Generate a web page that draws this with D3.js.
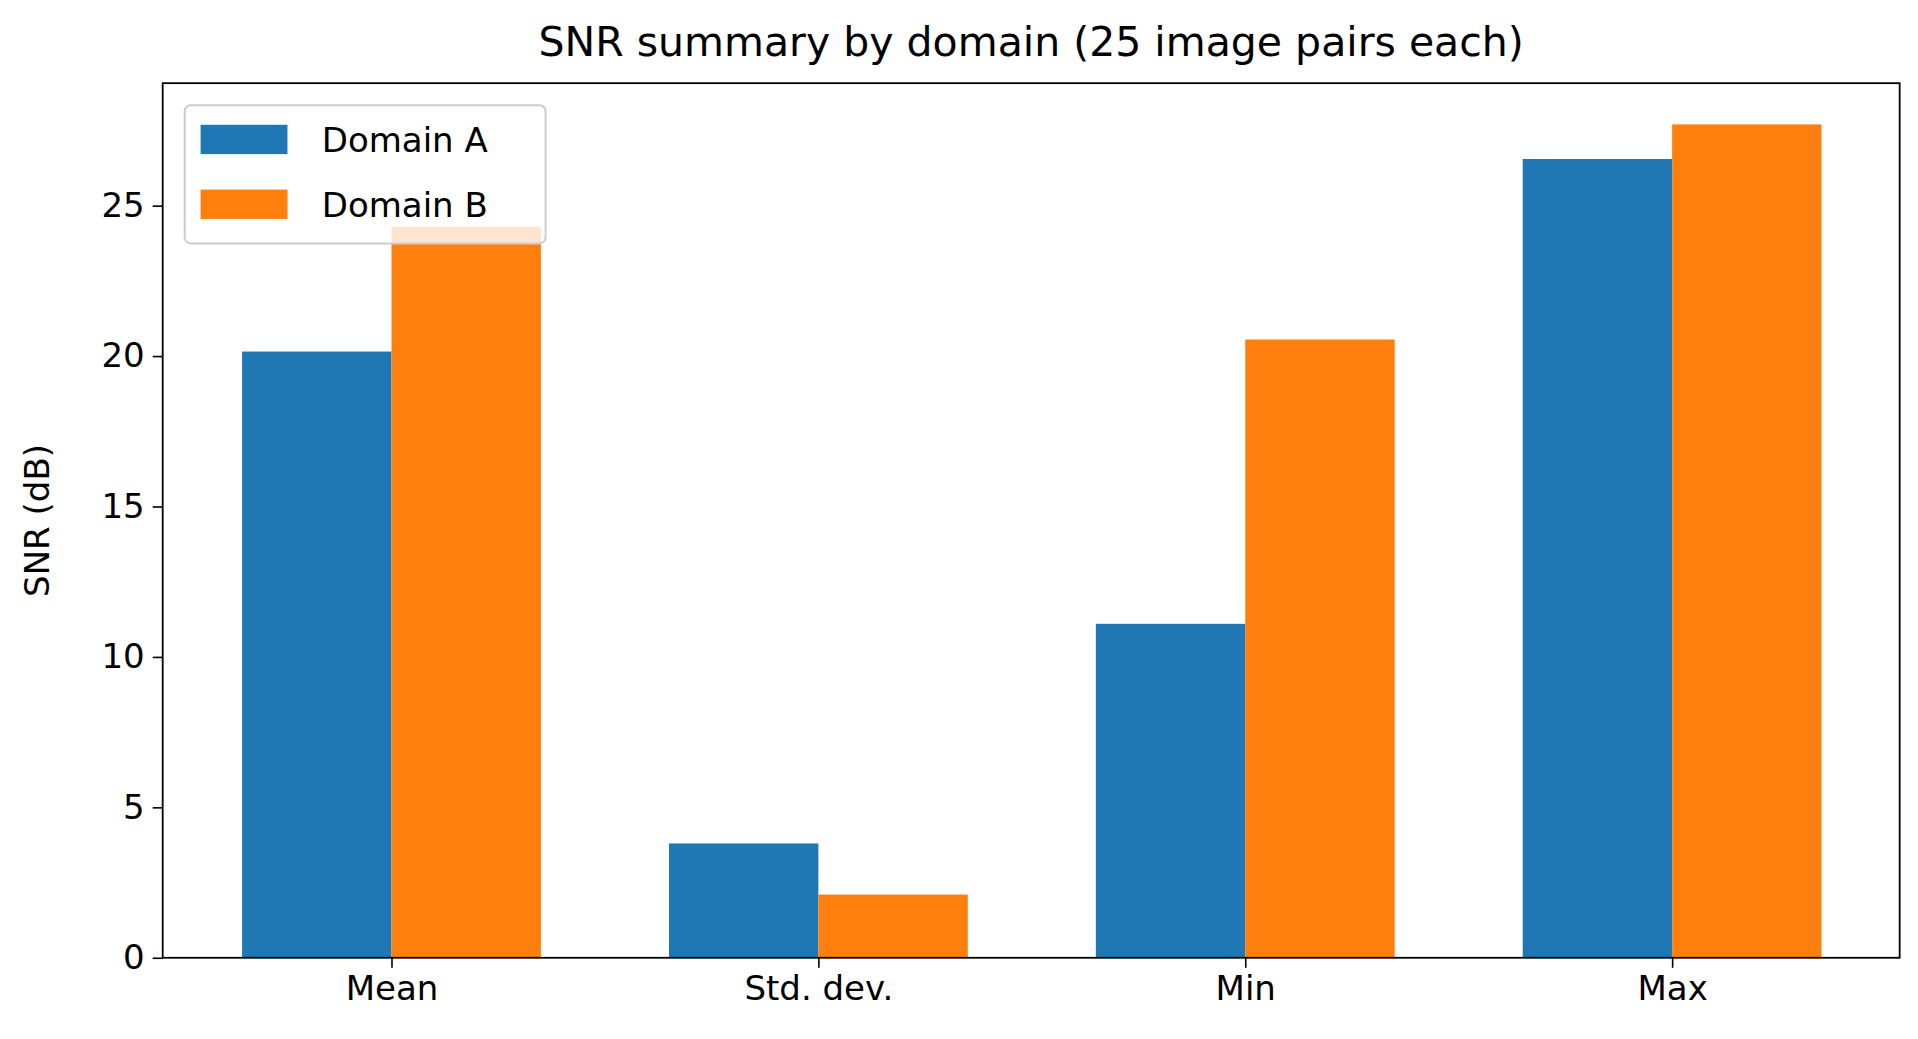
<!DOCTYPE html><html><head><meta charset="utf-8"><script src="https://d3js.org/d3.v7.min.js"></script>
<style>body{margin:0;background:#fff}svg{font-family:"DejaVu Sans",sans-serif}</style></head><body><svg id="c" width="1918" height="1039"></svg><script>
const categories=["Mean","Std. dev.","Min","Max"];
const seriesNames=["Domain A","Domain B"];
const domainA=[20.15,3.8,11.1,26.55];
const domainB=[24.3,2.1,20.55,27.7];
const colors=["#1f77b4","#ff7f0e"];
const yTicks=[0,5,10,15,20,25];
const k=1918/1568;
const L=133*k,R=1553*k,T=68*k,B=783*k;
const svg=d3.select("#c");
const x=d3.scaleLinear().domain([-0.536,3.533]).range([L,R]);
const y=d3.scaleLinear().domain([0,29.07]).range([B,T]);
const w=0.35;
[domainA,domainB].forEach((s,si)=>{
 svg.selectAll(null).data(s).enter().append("rect")
  .attr("x",(d,i)=>x(i+(si-1)*w)).attr("width",x(w)-x(0))
  .attr("y",d=>y(d)).attr("height",d=>B-y(d)).attr("fill",colors[si]);
});
const fs=34;
const ya=svg.append("g").attr("transform",`translate(${L},0)`).call(d3.axisLeft(y).tickValues(yTicks).tickSize(10).tickPadding(8));
const xa=svg.append("g").attr("transform",`translate(0,${B})`).call(d3.axisBottom(x).tickValues([0,1,2,3]).tickFormat(i=>categories[i]).tickSize(10).tickPadding(8));
[ya,xa].forEach(a=>{a.select(".domain").remove();a.selectAll("text").attr("font-size",fs).attr("font-family","DejaVu Sans").attr("fill","#000");a.selectAll("line").attr("stroke","#000").attr("stroke-width",1.6);});
svg.append("rect").attr("x",L).attr("y",T).attr("width",R-L).attr("height",B-T).attr("fill","none").attr("stroke","#000").attr("stroke-width",1.8);
svg.append("text").attr("x",(L+R)/2).attr("y",46*k).attr("text-anchor","middle").attr("font-size",41).text("SNR summary by domain (25 image pairs each)");
svg.append("text").attr("transform",`translate(${40*k},${(T+B)/2}) rotate(-90)`).attr("text-anchor","middle").attr("font-size",fs).text("SNR (dB)");
const lg=svg.append("g");
lg.append("rect").attr("x",151*k).attr("y",86*k).attr("width",295*k).attr("height",113*k).attr("rx",6).attr("fill","#fff").attr("fill-opacity",0.8).attr("stroke","#ccc").attr("stroke-width",2);
seriesNames.forEach((n,i)=>{
 const cy=(114+i*53)*k;
 lg.append("rect").attr("x",164*k).attr("y",cy-12*k).attr("width",71*k).attr("height",24*k).attr("fill",colors[i]);
 lg.append("text").attr("x",263*k).attr("y",cy).attr("dy","0.36em").attr("font-size",fs).text(n);
});
</script></body></html>
